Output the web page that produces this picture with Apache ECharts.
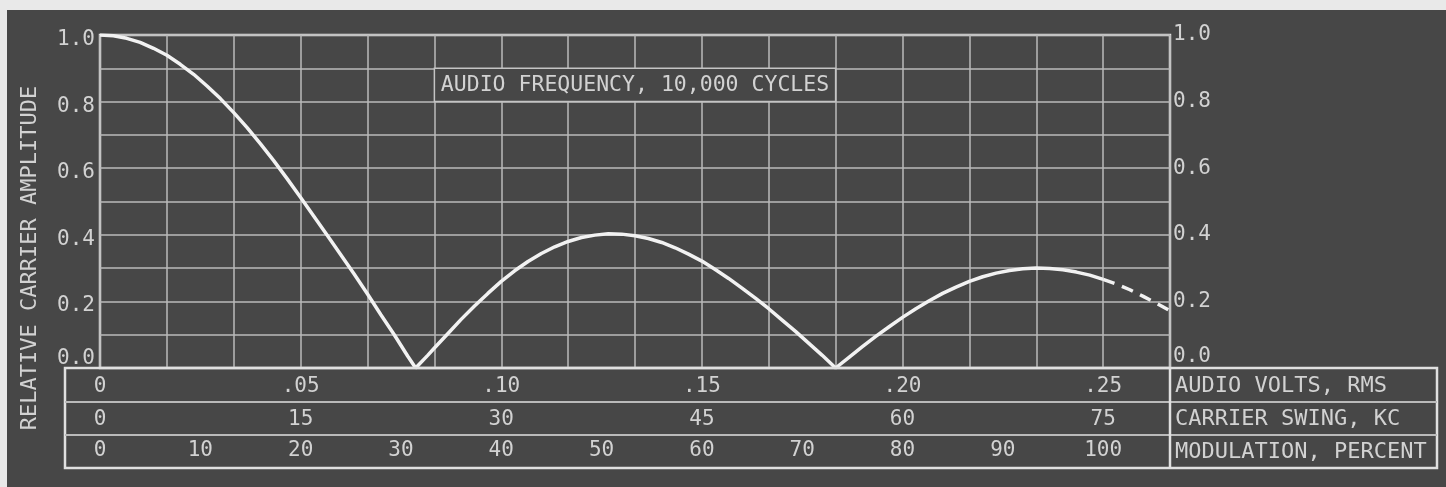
<!DOCTYPE html>
<html>
<head>
<meta charset="utf-8">
<script src="https://cdn.jsdelivr.net/npm/echarts@6/dist/echarts.min.js"></script>
<style>
  html, body { margin: 0; padding: 0; background: #e9e9e9; }
  #photo { position: absolute; left: 7px; top: 10px; right: 0; bottom: 0; background: #474747; }
  #chart { position: absolute; left: 0; top: 0; width: 1446px; height: 487px; }
</style>
</head>
<body>
<div id="photo"></div>
<div id="chart"></div>
<script>
// ---- data ----
// Carrier swing (kc) and relative carrier amplitude, solid part of the curve
const swingKc = [0, 1, 2, 3, 4, 5, 6, 7, 8, 9, 10, 11, 12, 13, 14, 15, 16, 17, 18, 19, 20, 21, 22, 23, 23.6,
  24.5, 25, 26, 27, 28, 29, 30, 31, 32, 33, 34, 35, 36, 37, 38, 39, 40, 41, 42, 43, 44,
  45, 46, 47, 48, 49, 50, 51, 52, 53, 54, 55, 56, 57, 58, 59, 60, 61, 62, 63, 64, 65,
  66, 67, 68, 69, 70, 71, 72, 73, 74, 75];
const amplitude = [1.000, 0.998, 0.990, 0.978, 0.960, 0.939, 0.912, 0.882, 0.847, 0.809, 0.767, 0.722, 0.673, 0.622, 0.568, 0.512, 0.455, 0.398, 0.340, 0.282, 0.222, 0.160, 0.100, 0.036, 0.000,
  0.038, 0.060, 0.103, 0.146, 0.186, 0.224, 0.260, 0.292, 0.320, 0.344, 0.364, 0.380, 0.392, 0.399, 0.403, 0.402, 0.397, 0.389, 0.377, 0.361, 0.342,
  0.321, 0.296, 0.269, 0.240, 0.210, 0.178, 0.144, 0.110, 0.074, 0.038, 0.000, 0.032, 0.064, 0.095, 0.124, 0.152, 0.178, 0.202, 0.224, 0.243, 0.260,
  0.274, 0.285, 0.293, 0.298, 0.300, 0.299, 0.295, 0.288, 0.279, 0.266];
// Dashed (extrapolated) end of the curve
const dashedKc = [75, 76, 77, 78, 79, 80];
const dashedAmp = [0.266, 0.252, 0.235, 0.215, 0.194, 0.172];

// Table rows under the plot
const audioTicks = [0, 0.05, 0.10, 0.15, 0.20, 0.25];
const audioLabels = ['0', '.05', '.10', '.15', '.20', '.25'];
const swingTicks = [0, 15, 30, 45, 60, 75];
const swingLabels = ['0', '15', '30', '45', '60', '75'];
const modTicks = [0, 10, 20, 30, 40, 50, 60, 70, 80, 90, 100];
const modLabels = ['0', '10', '20', '30', '40', '50', '60', '70', '80', '90', '100'];
const rowNames = ['AUDIO VOLTS, RMS', 'CARRIER SWING, KC', 'MODULATION, PERCENT'];
const yTitle = 'RELATIVE CARRIER AMPLITUDE';
const boxTitle = 'AUDIO FREQUENCY, 10,000 CYCLES';
const titleBox = { kc: [25, 55], amp: [0.9, 0.8] };

// ---- styling ----
const FONT = 'DejaVu Sans Mono';
const TXT = '#d2d2d2';
const GRIDC = '#bababa';
const BORDER = '#e0e0e0';
const BG = '#474747';
const CURVE = '#f2f2f2';

const chart = echarts.init(document.getElementById('chart'), null, { renderer: 'canvas' });

function pairs(xs, ys) { return xs.map((x, i) => [x, ys[i]]); }
function lookup(ticks, labels) {
  return function (v) {
    for (let i = 0; i < ticks.length; i++) {
      if (Math.abs(ticks[i] - v) < 1e-6) return labels[i];
    }
    return '';
  };
}
function rowAxis(min, max, interval, offset, ticks, labels) {
  return {
    type: 'value', gridIndex: 0, position: 'bottom', offset: offset,
    min: min, max: max, interval: interval,
    axisLine: { show: false }, axisTick: { show: false }, splitLine: { show: false },
    axisLabel: {
      show: true, margin: 0, verticalAlign: 'middle', showMaxLabel: false,
      color: TXT, fontFamily: FONT, fontSize: 21,
      formatter: lookup(ticks, labels)
    }
  };
}
function yLabel() {
  return function (v) {
    const t = Math.round(v * 10);
    if (t % 2 !== 0) return '';
    const s = (t / 10).toFixed(1);
    return t === 0 ? '{z|' + s + '}' : '{n|' + s + '}';
  };
}

const gridLeft = 100, gridRight = 1170, gridTop = 35, gridBottom = 368;
const tableLeft = 65, tableRight = 1437, tableBottom = 468;
const rowLines = [402, 435];

const option = {
  animation: false,
  backgroundColor: 'transparent',
  grid: {
    left: gridLeft, right: 1446 - gridRight, top: gridTop, bottom: 487 - gridBottom,
    show: true, borderColor: BORDER, borderWidth: 2.5, backgroundColor: 'transparent'
  },
  xAxis: [
    {
      type: 'value', min: 0, max: 80, interval: 5, position: 'bottom',
      axisLine: { show: false }, axisTick: { show: false }, axisLabel: { show: false },
      splitLine: { show: true, lineStyle: { color: GRIDC, width: 1.5 } }
    },
    rowAxis(0, 80 / 300, 0.05, 19, audioTicks, audioLabels),
    rowAxis(0, 80, 15, 52, swingTicks, swingLabels),
    rowAxis(0, 320 / 3, 10, 83, modTicks, modLabels)
  ],
  yAxis: [
    {
      type: 'value', min: 0, max: 1, interval: 0.1, position: 'left',
      axisLine: { show: false }, axisTick: { show: false },
      splitLine: { show: true, lineStyle: { color: GRIDC, width: 1.5 } },
      axisLabel: {
        margin: 5, color: TXT, fontFamily: FONT, fontSize: 21,
        formatter: yLabel(),
        rich: {
          n: { color: TXT, fontFamily: FONT, fontSize: 21, padding: [9, 0, 0, 0] },
          z: { color: TXT, fontFamily: FONT, fontSize: 21, padding: [0, 0, 18, 0] }
        }
      }
    },
    {
      type: 'value', min: 0, max: 1, interval: 0.1, position: 'right',
      axisLine: { show: false }, axisTick: { show: false }, splitLine: { show: false },
      axisLabel: {
        margin: 3, color: TXT, fontFamily: FONT, fontSize: 21,
        formatter: yLabel(),
        rich: {
          n: { color: TXT, fontFamily: FONT, fontSize: 21, padding: [0, 0, 0, 0] },
          z: { color: TXT, fontFamily: FONT, fontSize: 21, padding: [0, 0, 22, 0] }
        }
      }
    }
  ],
  series: [
    {
      type: 'line', xAxisIndex: 0, yAxisIndex: 0,
      data: pairs(swingKc, amplitude),
      showSymbol: false, smooth: false, z: 5,
      lineStyle: { color: CURVE, width: 3.5 },
      markArea: {
        silent: true,
        itemStyle: { color: BG, borderColor: '#c4c4c4', borderWidth: 1.5 },
        label: {
          show: true, position: 'inside', color: TXT, fontFamily: FONT, fontSize: 21.5,
          formatter: boxTitle
        },
        data: [[
          { xAxis: titleBox.kc[0], yAxis: titleBox.amp[0] },
          { xAxis: titleBox.kc[1], yAxis: titleBox.amp[1] }
        ]]
      }
    },
    {
      type: 'line', xAxisIndex: 0, yAxisIndex: 0,
      data: pairs(dashedKc, dashedAmp),
      showSymbol: false, smooth: false, z: 5,
      lineStyle: { color: CURVE, width: 3.5, type: [12, 8] }
    }
  ],
  graphic: [
    {
      type: 'text', x: 30, y: 258, rotation: Math.PI / 2, z: 10,
      style: { text: yTitle, fill: TXT, font: '22px "' + FONT + '"', align: 'center', verticalAlign: 'middle' }
    },
    {
      type: 'rect', z: 10,
      shape: { x: tableLeft, y: gridBottom, width: tableRight - tableLeft, height: tableBottom - gridBottom },
      style: { fill: null, stroke: BORDER, lineWidth: 2.5 }
    },
    {
      type: 'line', z: 10,
      shape: { x1: tableLeft, y1: rowLines[0], x2: tableRight, y2: rowLines[0] },
      style: { stroke: GRIDC, lineWidth: 1.8 }
    },
    {
      type: 'line', z: 10,
      shape: { x1: tableLeft, y1: rowLines[1], x2: tableRight, y2: rowLines[1] },
      style: { stroke: GRIDC, lineWidth: 1.8 }
    },
    {
      type: 'line', z: 10,
      shape: { x1: gridRight, y1: gridBottom, x2: gridRight, y2: tableBottom },
      style: { stroke: BORDER, lineWidth: 2.5 }
    },
    {
      type: 'text', x: 1175, y: 386, z: 10,
      style: { text: rowNames[0], fill: TXT, font: '22px "' + FONT + '"', align: 'left', verticalAlign: 'middle' }
    },
    {
      type: 'text', x: 1175, y: 419, z: 10,
      style: { text: rowNames[1], fill: TXT, font: '22px "' + FONT + '"', align: 'left', verticalAlign: 'middle' }
    },
    {
      type: 'text', x: 1175, y: 452, z: 10,
      style: { text: rowNames[2], fill: TXT, font: '22px "' + FONT + '"', align: 'left', verticalAlign: 'middle' }
    }
  ]
};
chart.setOption(option);
</script>
</body>
</html>
